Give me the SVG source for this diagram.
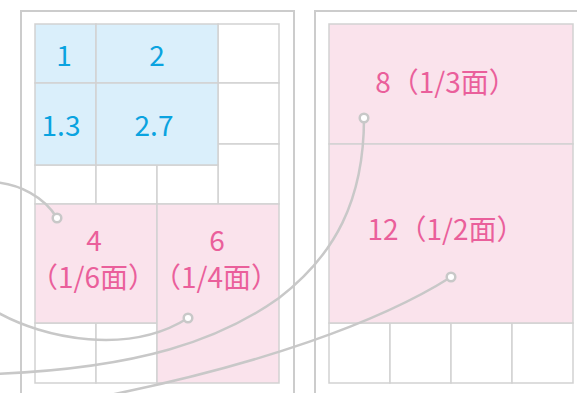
<svg xmlns="http://www.w3.org/2000/svg" width="577" height="393" viewBox="0 0 577 393">
<style>
.frame{fill:none;stroke:#cccccc;stroke-width:2}
.cell{fill:#ffffff;stroke:#d2d2d2;stroke-width:1.5}
.blue{fill:#daeffb;stroke:#d2d2d2;stroke-width:1.5}
.pink{fill:#fae3ec;stroke:#d2d2d2;stroke-width:1.5}
.tb{fill:#0aa3e0;font-family:"Noto Sans CJK JP","Noto Sans",sans-serif;font-size:28px;text-anchor:middle}
.tp{fill:#ea5f9b;font-family:"Noto Sans CJK JP","Noto Sans",sans-serif;font-size:28px;text-anchor:middle}
.con{fill:none;stroke:#c8c8c8;stroke-width:2.5}
.dot{fill:#ffffff;stroke:#c8c8c8;stroke-width:2.5}
</style>
<rect width="577" height="393" fill="#ffffff"/>
<g id="page-left">
<rect class="frame" x="21" y="11" width="273" height="400"/>
<rect class="cell" x="218" y="24" width="61" height="59"/>
<rect class="cell" x="218" y="83" width="61" height="61"/>
<rect class="cell" x="218" y="144" width="61" height="60"/>
<rect class="cell" x="35" y="165" width="61" height="39"/>
<rect class="cell" x="96" y="165" width="61" height="39"/>
<rect class="cell" x="157" y="165" width="61" height="39"/>
<rect class="cell" x="35" y="323" width="61" height="60"/>
<rect class="cell" x="96" y="323" width="61" height="60"/>
</g>
<g id="page-right">
<rect class="frame" x="315" y="11" width="300" height="400"/>
<rect class="cell" x="329" y="323" width="61" height="60"/>
<rect class="cell" x="390" y="323" width="61" height="60"/>
<rect class="cell" x="451" y="323" width="61" height="60"/>
<rect class="cell" x="512" y="323" width="61" height="60"/>
</g>
<g id="n1"><rect class="blue" x="35" y="24" width="61" height="59"/><text class="tb" x="64" y="66">1</text></g>
<g id="n2"><rect class="blue" x="96" y="24" width="122" height="59"/><text class="tb" x="157" y="66">2</text></g>
<g id="n13"><rect class="blue" x="35" y="83" width="61" height="82"/><text class="tb" x="61" y="136">1.3</text></g>
<g id="n27"><rect class="blue" x="96" y="83" width="122" height="82"/><text class="tb" x="154" y="136">2.7</text></g>
<g id="n4"><rect class="pink" x="35" y="204" width="122" height="119"/><text class="tp" x="94" y="251">4</text><text class="tp" x="93" y="288">（1/6面）</text></g>
<g id="n6"><rect class="pink" x="157" y="204" width="122" height="179"/><text class="tp" x="217" y="251">6</text><text class="tp" x="216" y="288">（1/4面）</text></g>
<g id="n8"><rect class="pink" x="329" y="24" width="244" height="120"/><text class="tp" x="446" y="93">8（1/3面）</text></g>
<g id="n12"><rect class="pink" x="329" y="144" width="244" height="179"/><text class="tp" x="446" y="240">12（1/2面）</text></g>
<g id="connectors">
<path class="con" d="M-10,182 C20,183 45,198 57,218"/>
<path class="con" d="M-5,311 C45,340 130,355 188,318"/>
<path class="con" d="M364,118 C364,200 335,255 279,298 C220,340 140,368 -5,374"/>
<path class="con" d="M451,277 C380,322 260,365 100,397"/>
<circle class="dot" cx="57" cy="218" r="4.3"/>
<circle class="dot" cx="188" cy="318" r="4.3"/>
<circle class="dot" cx="364" cy="118" r="4.3"/>
<circle class="dot" cx="451" cy="277" r="4.3"/>
</g>
</svg>
